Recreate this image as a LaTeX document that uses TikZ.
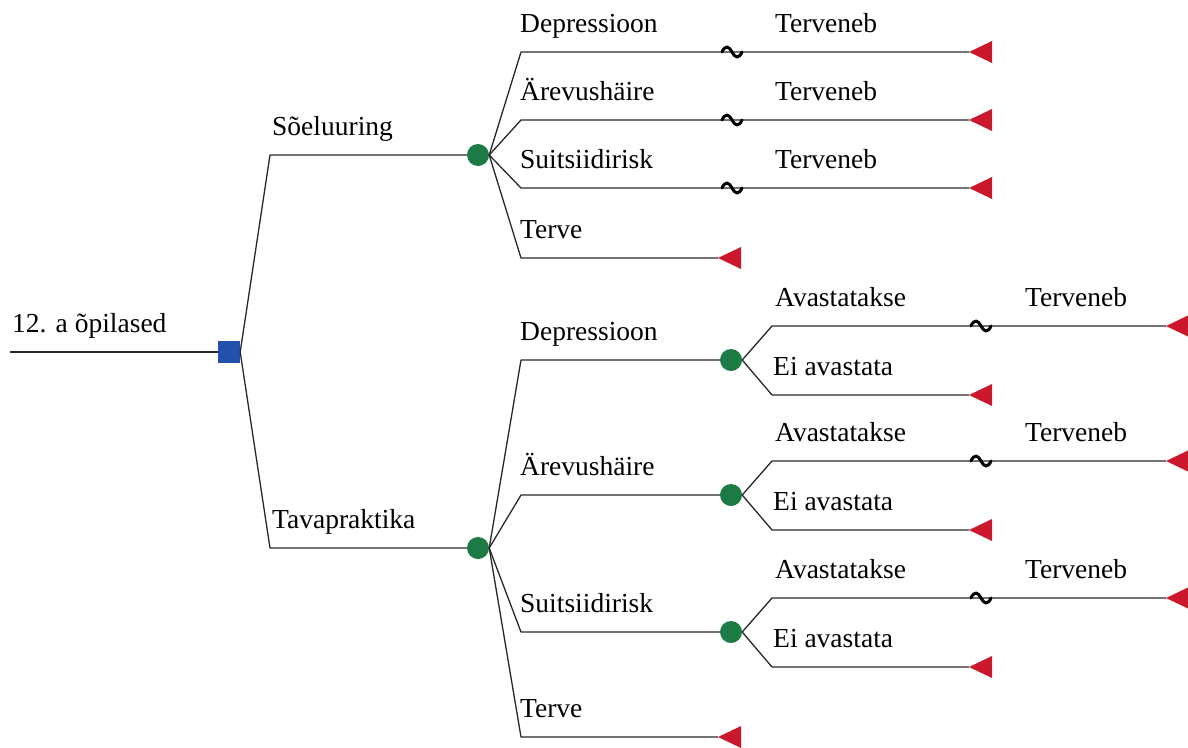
\documentclass[tikz,border=0pt]{standalone}
\usepackage{fontspec}
\setmainfont{Liberation Serif}
\definecolor{chgreen}{RGB}{28,122,68}
\definecolor{decblue}{RGB}{34,80,172}
\definecolor{termred}{RGB}{204,24,44}
\definecolor{linegray}{RGB}{40,40,40}
\begin{document}
\begin{tikzpicture}[x=1pt,y=-1pt,
  conn/.style={draw=linegray,line width=1.3pt,line join=round},
  chance/.style={circle,fill=chgreen,inner sep=0pt,minimum size=22pt},
  decision/.style={rectangle,fill=decblue,inner sep=0pt,minimum size=22pt},
  lbl/.style={anchor=base west,inner sep=0pt,font=\fontsize{27.5}{30}\selectfont},
  term/.pic={\fill[termred] (0,0) -- (23,-11) -- (23,11) -- cycle;},
  sqg/.pic={\draw[black,line width=3pt,line cap=round] (-10,0) .. controls (-7,-7) and (-3,-6) .. (0,0) .. controls (3,6) and (7,7) .. (10,0);}
]
\useasboundingbox (0,0) rectangle (1188,747);

% root
\coordinate (r0) at (10,352);
\node[decision] (dec) at (229,352) {};
\draw[conn] (r0) -- (dec);
\node[lbl] (lroot) at (12,332) {12. a õpilased};

% first level
\coordinate (k1) at (270,155);
\coordinate (k2) at (270,548);
\node[chance] (c1) at (478,155) {};
\node[chance] (c2) at (478,548) {};
\draw[conn] (dec.east) -- (k1) -- (c1);
\draw[conn] (dec.east) -- (k2) -- (c2);
\node[lbl] (ls) at (272,135) {Sõeluuring};
\node[lbl] (lt) at (272,528) {Tavapraktika};

% top chance branches
\foreach \y/\t [count=\i] in {52/Depressioon,120/Ärevushäire,188/Suitsiidirisk} {
  \coordinate (ta\i) at (521,\y);
  \coordinate (tt\i) at (969,\y);
  \draw[conn] (c1.east) -- (ta\i) -- (tt\i);
  \pic at (tt\i) {term};
  \pic at (732,\y) {sqg};
  \node[lbl] (tl\i) at (520,\y-20) {\t};
  \node[lbl] (tr\i) at (775,\y-20) {Terveneb};
}
\coordinate (ta4) at (521,258);
\coordinate (tt4) at (718,258);
\draw[conn] (c1.east) -- (ta4) -- (tt4);
\pic at (tt4) {term};
\node[lbl] (tl4) at (520,238) {Terve};

% bottom chance branches
\foreach \y/\t [count=\i] in {360/Depressioon,495/Ärevushäire,632/Suitsiidirisk} {
  \coordinate (ba\i) at (521,\y);
  \node[chance] (bc\i) at (731,\y) {};
  \draw[conn] (c2.east) -- (ba\i) -- (bc\i);
  \node[lbl] (bl\i) at (520,\y-20) {\t};
  % avastatakse
  \coordinate (bu\i) at (772,\y-34);
  \coordinate (but\i) at (1166,\y-34);
  \draw[conn] (bc\i.east) -- (bu\i) -- (but\i);
  \pic at (but\i) {term};
  \pic at (981,\y-34) {sqg};
  \node[lbl] (bul\i) at (775,\y-54) {Avastatakse};
  \node[lbl] (bur\i) at (1025,\y-54) {Terveneb};
  % ei avastata
  \coordinate (bd\i) at (772,\y+35);
  \coordinate (bdt\i) at (969,\y+35);
  \draw[conn] (bc\i.east) -- (bd\i) -- (bdt\i);
  \pic at (bdt\i) {term};
  \node[lbl] (bdl\i) at (773,\y+15) {Ei avastata};
}
\coordinate (ba4) at (521,737);
\coordinate (bt4) at (718,737);
\draw[conn] (c2.east) -- (ba4) -- (bt4);
\pic at (bt4) {term};
\node[lbl] (bl4) at (520,717) {Terve};
\end{tikzpicture}
\end{document}
